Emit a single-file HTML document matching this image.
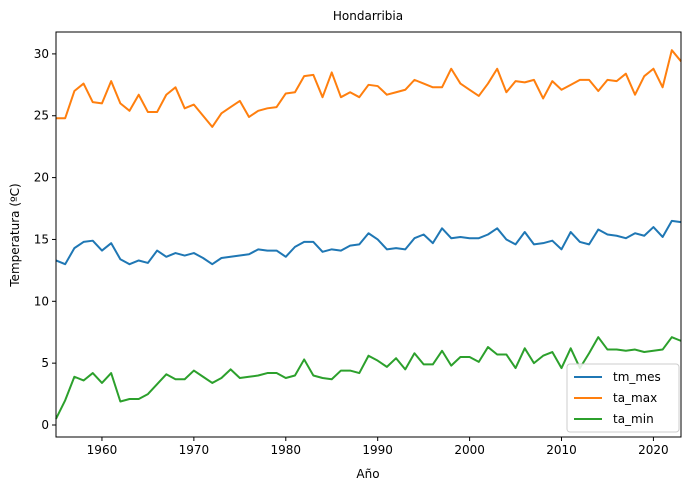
<!DOCTYPE html>
<html><head><meta charset="utf-8"><style>
body{margin:0;background:#fff;}
svg text{font-family:"DejaVu Sans","Liberation Sans",sans-serif;font-size:12px;fill:#000;}
</style></head><body>
<svg id="c" width="690" height="490"></svg>
<script>
const years=[];for(let y=1955;y<=2023;y++)years.push(y);
const tmMes=[13.3,13.0,14.3,14.8,14.9,14.1,14.7,13.4,13.0,13.3,13.1,14.1,13.6,13.9,13.7,13.9,13.5,13.0,13.5,13.6,13.7,13.8,14.2,14.1,14.1,13.6,14.4,14.8,14.8,14.0,14.2,14.1,14.5,14.6,15.5,15.0,14.2,14.3,14.2,15.1,15.4,14.7,15.9,15.1,15.2,15.1,15.1,15.4,15.9,15.0,14.6,15.6,14.6,14.7,14.9,14.2,15.6,14.8,14.6,15.8,15.4,15.3,15.1,15.5,15.3,16.0,15.2,16.5,16.4];
const taMax=[24.8,24.8,27.0,27.6,26.1,26.0,27.8,26.0,25.4,26.7,25.3,25.3,26.7,27.3,25.6,25.9,25.0,24.1,25.2,25.7,26.2,24.9,25.4,25.6,25.7,26.8,26.9,28.2,28.3,26.5,28.5,26.5,26.9,26.5,27.5,27.4,26.7,26.9,27.1,27.9,27.6,27.3,27.3,28.8,27.6,27.1,26.6,27.6,28.8,26.9,27.8,27.7,27.9,26.4,27.8,27.1,27.5,27.9,27.9,27.0,27.9,27.8,28.4,26.7,28.2,28.8,27.3,30.3,29.4];
const taMin=[0.5,2.0,3.9,3.6,4.2,3.4,4.2,1.9,2.1,2.1,2.5,3.3,4.1,3.7,3.7,4.4,3.9,3.4,3.8,4.5,3.8,3.9,4.0,4.2,4.2,3.8,4.0,5.3,4.0,3.8,3.7,4.4,4.4,4.2,5.6,5.2,4.7,5.4,4.5,5.8,4.9,4.9,6.0,4.8,5.5,5.5,5.1,6.3,5.7,5.7,4.6,6.2,5.0,5.6,5.9,4.6,6.2,4.6,5.8,7.1,6.1,6.1,6.0,6.1,5.9,6.0,6.1,7.1,6.8];
const xTicks=[1960,1970,1980,1990,2000,2010,2020];
const yTicks=[0,5,10,15,20,25,30];
const seriesNames=["tm_mes","ta_max","ta_min"];
const colors=["#1f77b4","#ff7f0e","#2ca02c"];

const L=56,R=681,T=32,B=437;
const x=v=>L+(v-1955)/(2023-1955)*(R-L);
const y=v=>B-(v-(-0.97))/(31.77-(-0.97))*(B-T);
const svg=document.getElementById('c');
const NS="http://www.w3.org/2000/svg";
function mk(t,a,p){const e=document.createElementNS(NS,t);for(const k in a)e.setAttribute(k,a[k]);(p||svg).appendChild(e);return e;}

const title=mk('text',{x:368,y:20,'text-anchor':'middle'});title.textContent='Hondarribia';



const series=[tmMes,taMax,taMin];
series.forEach((s,i)=>{
  const d=s.map((v,j)=>(j?'L':'M')+x(years[j]).toFixed(2)+','+y(v).toFixed(2)).join('');
  const p=mk('path',{d:d,fill:'none',stroke:colors[i],'stroke-width':2,'stroke-linejoin':'round'});
  
  
});

const frame=mk('rect',{x:L,y:T,width:R-L,height:B-T,fill:'none',stroke:'#000','stroke-width':1});



xTicks.forEach(t=>{
  mk('line',{x1:x(t),x2:x(t),y1:B,y2:B+4,stroke:'#000'});
  const tx=mk('text',{x:x(t),y:B+17,'text-anchor':'middle'});tx.textContent=t;
  
  
});
yTicks.forEach(t=>{
  mk('line',{x1:L-4,x2:L,y1:y(t),y2:y(t),stroke:'#000'});
  const tx=mk('text',{x:L-7,y:y(t)+4,'text-anchor':'end'});tx.textContent=t;
  
  
});
const xl=mk('text',{x:368,y:478,'text-anchor':'middle'});xl.textContent='Año';


const yl=mk('text',{x:19,y:235,'text-anchor':'middle',transform:'rotate(-90 19 235)'});yl.textContent='Temperatura (ºC)';



const lg=mk('g',{});


mk('rect',{x:567,y:364,width:112,height:68,rx:3,fill:'#fff','fill-opacity':0.85,stroke:'#ccc'},lg);
seriesNames.forEach((n,i)=>{
  const cy=377+i*21;
  mk('line',{x1:574,x2:602,y1:cy,y2:cy,stroke:colors[i],'stroke-width':2},lg);
  const t=mk('text',{x:613,y:cy+4},lg);t.textContent=n;
  
  
});
</script>
</body></html>
